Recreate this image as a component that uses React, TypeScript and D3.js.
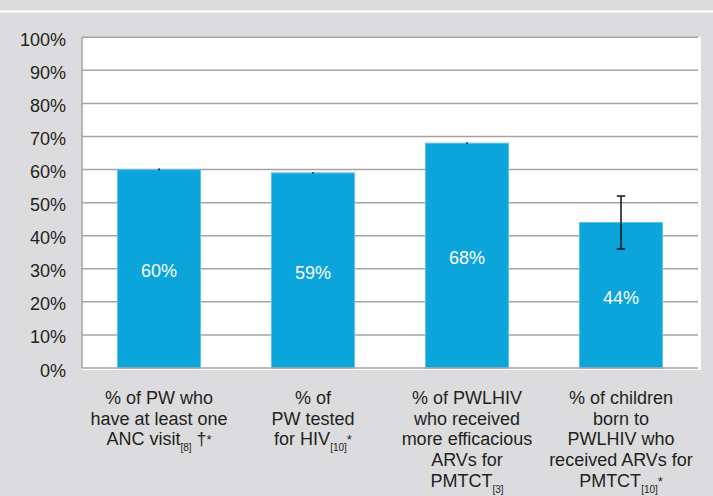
import React from "react";
import * as d3 from "d3";

type Seg = { t: string; sub?: boolean; sup?: boolean };

const categories: string[] = ["anc", "tested", "arv", "children"];
const values: number[] = [60, 59, 68, 44];
const errLow: number[] = [59.8, 58.8, 67.8, 36];
const errHigh: number[] = [60.3, 59.3, 68.3, 52];
const barLabels: string[] = ["60%", "59%", "68%", "44%"];
const yTicks: number[] = [0, 10, 20, 30, 40, 50, 60, 70, 80, 90, 100];

const labelLines: Seg[][][] = [
  [
    [{ t: "% of PW who" }],
    [{ t: "have at least one" }],
    [{ t: "ANC visit" }, { t: "[8]", sub: true }, { t: " †" }, { t: "*", sup: true }],
  ],
  [
    [{ t: "% of" }],
    [{ t: "PW tested" }],
    [{ t: "for HIV" }, { t: "[10]", sub: true }, { t: "*", sup: true }],
  ],
  [
    [{ t: "% of PWLHIV" }],
    [{ t: "who received" }],
    [{ t: "more efficacious" }],
    [{ t: "ARVs for" }],
    [{ t: "PMTCT" }, { t: "[3]", sub: true }],
  ],
  [
    [{ t: "% of children" }],
    [{ t: "born to" }],
    [{ t: "PWLHIV who" }],
    [{ t: "received ARVs for" }],
    [{ t: "PMTCT" }, { t: "[10]", sub: true }, { t: "*", sup: true }],
  ],
];

const W = 713;
const H = 496;
const FONT = "'Liberation Sans', Arial, Helvetica, sans-serif";

export default function App() {
  const left = 82;
  const right = 698;
  const top = 37.3;
  const bottom = 368;

  const x = d3.scaleBand<string>().domain(categories).range([left, right]).paddingInner(0.46).paddingOuter(0.23);
  const y = d3.scaleLinear().domain([0, 100]).range([bottom, top]);

  const renderLine = (segs: Seg[], key: number, cx: number, baseY: number) => {
    let shift = 0;
    const parts = segs.map((s, i) => {
      let target = 0;
      let size = 18;
      if (s.sub) {
        target = 6;
        size = 10;
      } else if (s.sup) {
        target = -1;
        size = 13;
      }
      const dy = target - shift;
      shift = target;
      return (
        <tspan key={i} dy={dy} fontSize={size}>
          {s.t}
        </tspan>
      );
    });
    return (
      <text key={key} x={cx} y={baseY} textAnchor="middle" fontSize={18} fill="#231f20" fontFamily={FONT}>
        {parts}
      </text>
    );
  };

  return (
    <svg
      width={W}
      height={H}
      style={{ position: "absolute", left: 0, top: 0, display: "block" }}
    >
      <rect x={0} y={0} width={W} height={H} fill="#dcdcde" />
      <rect x={0} y={10.5} width={W} height={2} fill="#ffffff" />
      <rect x={left} y={top} width={701 - left} height={370 - top} fill="#ffffff" />

      {yTicks.map((t) => (
        <g key={t}>
          {t > 0 && (
            <line x1={left} x2={right} y1={y(t)} y2={y(t)} stroke="#a3a3a3" strokeWidth={1.5} />
          )}
          <text
            x={66}
            y={y(t) + 8.5}
            textAnchor="end"
            fontSize={18}
            fill="#231f20"
            fontFamily={FONT}
          >
            {`${t}%`}
          </text>
        </g>
      ))}

      {categories.map((c, i) => {
        const bx = x(c) as number;
        const bw = x.bandwidth();
        const cx = bx + bw / 2;
        return (
          <g key={c}>
            <rect
              x={bx}
              y={y(values[i])}
              width={bw}
              height={bottom - y(values[i])}
              fill="#0ba4db"
              stroke="#62c2e9"
              strokeWidth={1}
            />
            <text
              x={cx}
              y={(y(values[i]) + bottom) / 2 + 8.5}
              textAnchor="middle"
              fontSize={18}
              fill="#ffffff"
              fontFamily={FONT}
            >
              {barLabels[i]}
            </text>
          </g>
        );
      })}

      <line x1={left} x2={left} y1={top} y2={bottom} stroke="#a3a3a3" strokeWidth={1.5} />
      <line x1={left} x2={right} y1={bottom} y2={bottom} stroke="#a3a3a3" strokeWidth={1.5} />

      {categories.map((c, i) => {
        const cx = (x(c) as number) + x.bandwidth() / 2;
        const showCaps = errHigh[i] - errLow[i] > 2;
        return (
          <g key={c + "err"} stroke="#111" strokeWidth={1.5}>
            <line x1={cx} x2={cx} y1={y(errLow[i])} y2={y(errHigh[i])} />
            {showCaps && (
              <>
                <line x1={cx - 4.2} x2={cx + 4.2} y1={y(errLow[i])} y2={y(errLow[i])} />
                <line x1={cx - 4.2} x2={cx + 4.2} y1={y(errHigh[i])} y2={y(errHigh[i])} />
              </>
            )}
          </g>
        );
      })}

      {categories.map((c, i) => {
        const cx = (x(c) as number) + x.bandwidth() / 2;
        return (
          <g key={c + "lbl"}>
            {labelLines[i].map((segs, j) => renderLine(segs, j, cx, 404 + j * 20.7))}
          </g>
        );
      })}
    </svg>
  );
}
